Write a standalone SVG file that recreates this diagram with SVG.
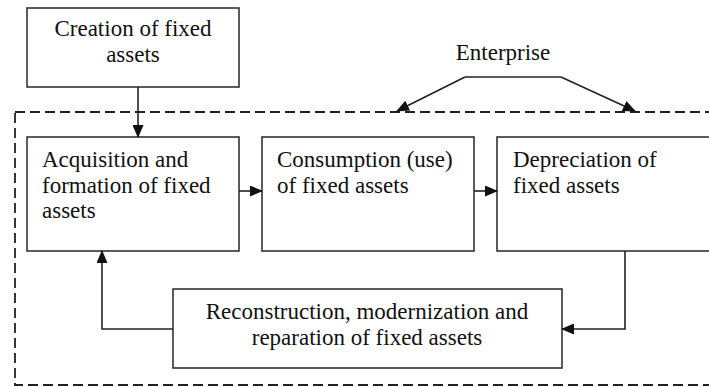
<svg xmlns="http://www.w3.org/2000/svg" width="709" height="387" viewBox="0 0 709 387">
<style>
.box{fill:#fff;stroke:#333;stroke-width:1.6}
.t{font-family:"Liberation Serif","Times New Roman",serif;font-size:23px;fill:#111}
.c{text-anchor:middle}
.ln{fill:none;stroke:#222;stroke-width:1.6}
</style>
<defs>
<marker id="ah" markerWidth="13" markerHeight="11" refX="12" refY="5.5" orient="auto" markerUnits="userSpaceOnUse">
<path d="M0,0 L13,5.5 L0,11 Z" fill="#111"/>
</marker>
</defs>
<rect width="709" height="387" fill="#fff"/>
<g id="enterprise">
<rect x="15" y="112" width="700" height="273" fill="none" stroke="#222" stroke-width="1.8" stroke-dasharray="10,5"/>
<text class="t c" x="503" y="60">Enterprise</text>
</g>
<g id="creation">
<rect class="box" x="27" y="8" width="212" height="79"/>
<text class="t c" x="133" y="36">Creation of fixed</text>
<text class="t c" x="133" y="62">assets</text>
</g>
<g id="acquisition">
<rect class="box" x="27" y="137" width="212" height="114"/>
<text class="t" x="42" y="167">Acquisition and</text>
<text class="t" x="42" y="193">formation of fixed</text>
<text class="t" x="42" y="218">assets</text>
</g>
<g id="consumption">
<rect class="box" x="262" y="137" width="212" height="114"/>
<text class="t" x="277" y="167">Consumption (use)</text>
<text class="t" x="277" y="193">of fixed assets</text>
</g>
<g id="depreciation">
<rect class="box" x="497" y="137" width="215" height="114"/>
<text class="t" x="513" y="167">Depreciation of</text>
<text class="t" x="513" y="193">fixed assets</text>
</g>
<g id="reconstruction">
<rect class="box" x="173" y="289" width="389" height="79"/>
<text class="t c" x="367" y="319">Reconstruction, modernization and</text>
<text class="t c" x="367" y="345">reparation of fixed assets</text>
</g>
<g id="connectors">
<line class="ln" x1="138" y1="87" x2="138" y2="137" marker-end="url(#ah)"/>
<line class="ln" x1="239" y1="191" x2="262" y2="191" marker-end="url(#ah)"/>
<line class="ln" x1="474" y1="191" x2="497" y2="191" marker-end="url(#ah)"/>
<polyline class="ln" points="625,251 625,329 562,329" marker-end="url(#ah)"/>
<polyline class="ln" points="173,329 102,329 102,251" marker-end="url(#ah)"/>
<polyline class="ln" points="465,77 397,111" marker-end="url(#ah)"/>
<line class="ln" x1="465" y1="77" x2="561" y2="77"/>
<polyline class="ln" points="561,77 635,111" marker-end="url(#ah)"/>
</g>
</svg>
